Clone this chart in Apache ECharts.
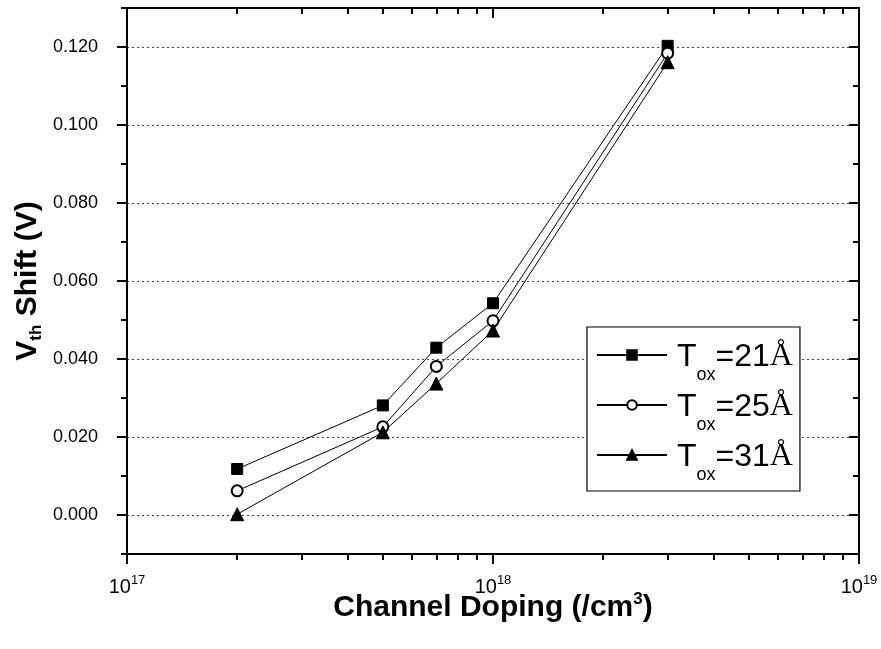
<!DOCTYPE html>
<html><head><meta charset="utf-8">
<script src="https://cdn.jsdelivr.net/npm/echarts@6/dist/echarts.min.js"></script>
<style>html,body{margin:0;padding:0;background:#fff}#c{width:881px;height:649px}</style>
</head><body><div id="c"></div>
<script>
// ---- data ----
const doping = [2e17, 5e17, 7e17, 1e18, 3e18];
const tox21 = [0.0118, 0.0281, 0.0429, 0.0543, 0.1203];
const tox25 = [0.0062, 0.0226, 0.0381, 0.0498, 0.1184];
const tox31 = [0.0002, 0.0212, 0.0337, 0.0473, 0.1161];
const seriesNames = ['Tox=21Å', 'Tox=25Å', 'Tox=31Å'];
const seriesThk = ['21', '25', '31'];
// ---- ticks ----
const xMajor = [1e17, 1e18, 1e19];
const xMinor = [2e17, 3e17, 4e17, 5e17, 6e17, 7e17, 8e17, 9e17, 2e18, 3e18, 4e18, 5e18, 6e18, 7e18, 8e18, 9e18];
const yMajor = [0, 0.02, 0.04, 0.06, 0.08, 0.10, 0.12];
const yMinor = [-0.01, 0.01, 0.03, 0.05, 0.07, 0.09, 0.11, 0.13];
const yMin = -0.01, yMax = 0.13;
const xMin = 1e17, xMax = 1e19;

const FONT = 'Liberation Sans, Arial, sans-serif';
const BLACK = '#000';

function xAx(grid, pos, ticks, len, inside, labels) {
  return {
    type: 'log', logBase: 10, gridIndex: grid, position: pos, min: xMin, max: xMax,
    axisLine: { show: true, onZero: false, lineStyle: { color: BLACK, width: 2 } },
    axisTick: { show: true, customValues: ticks, length: len, inside: inside, lineStyle: { color: BLACK, width: 2 } },
    axisLabel: labels ? {
      show: true, customValues: ticks, margin: 20, color: BLACK, fontFamily: FONT, fontSize: 20,
      formatter: v => '{b|10}{sup|' + Math.round(Math.log10(v)) + '}',
      rich: { b: { fontSize: 20, fontFamily: FONT, color: BLACK }, sup: { fontSize: 13, fontFamily: FONT, color: BLACK, padding: [0, 0, 14, 0] } }
    } : { show: false },
    splitLine: { show: false }, minorTick: { show: false }
  };
}
function yAx(grid, pos, ticks, len, inside, labels, split) {
  return {
    type: 'value', gridIndex: grid, position: pos, min: yMin, max: yMax,
    axisLine: { show: true, onZero: false, lineStyle: { color: BLACK, width: 2 } },
    axisTick: { show: true, customValues: ticks, length: len, inside: inside, lineStyle: { color: BLACK, width: 2 } },
    axisLabel: labels ? {
      show: true, customValues: ticks, margin: 29, color: BLACK, fontFamily: FONT, fontSize: 18,
      formatter: v => v.toFixed(3)
    } : { show: false },
    splitLine: split ? { show: true, lineStyle: { color: '#444', width: 1, type: [2, 3] } } : { show: false }
  };
}

const xA0 = xAx(0, 'bottom', xMajor, 10, false, true);
xA0.name = 'Channel Doping (/cm{sup|3})';
xA0.nameLocation = 'middle';
xA0.nameGap = 37;
xA0.nameMoveOverlap = false;
xA0.nameTextStyle = { fontFamily: FONT, fontSize: 30, fontWeight: 'bold', color: BLACK,
  rich: { sup: { fontFamily: FONT, fontSize: 17, fontWeight: 'bold', color: BLACK, padding: [0, 0, 17, 0] } } };

const yA0 = yAx(0, 'left', yMajor, 10, false, true, true);
yA0.name = '{v|V}{sub|th}{v| Shift (V)}';
yA0.nameLocation = 'middle';
yA0.nameGap = 82;
yA0.nameRotate = 90;
yA0.nameMoveOverlap = false;
yA0.nameTextStyle = { fontFamily: FONT, fontSize: 30, fontWeight: 'bold', color: BLACK,
  rich: {
    v: { fontFamily: FONT, fontSize: 30, fontWeight: 'bold', color: BLACK },
    sub: { fontFamily: FONT, fontSize: 17, fontWeight: 'bold', color: BLACK, padding: [17, 0, 0, 0] }
  } };

function mk(name, vals, symbol, size) {
  return {
    type: 'line', name: name, xAxisIndex: 0, yAxisIndex: 0,
    data: doping.map((x, i) => [x, vals[i]]),
    symbol: symbol, symbolSize: size, showAllSymbol: true,
    lineStyle: { color: BLACK, width: 1 },
    itemStyle: { color: BLACK, borderColor: BLACK, borderWidth: 1 },
    emphasis: { disabled: true }, animation: false, z: 3
  };
}

const chart = echarts.init(document.getElementById('c'), null, { renderer: 'canvas' });
chart.setOption({
  animation: false,
  backgroundColor: '#fff',
  grid: [
    { left: 127, right: 22, top: 8, bottom: 95, outerBoundsMode: 'none' },
    { left: 127, right: 22, top: 8, bottom: 95, outerBoundsMode: 'none' }
  ],
  xAxis: [
    xA0,
    xAx(0, 'top', xMajor, 10, true, false),
    xAx(1, 'bottom', xMinor, 6, false, false),
    xAx(1, 'top', xMinor, 6, true, false)
  ],
  yAxis: [
    yA0,
    yAx(0, 'right', yMajor, 10, true, false, false),
    yAx(1, 'left', yMinor, 6, false, false, false),
    yAx(1, 'right', yMinor, 6, true, false, false)
  ],
  legend: {
    orient: 'vertical', left: 587, top: 327,
    padding: [12, 7, 7, 9], itemGap: 5, itemWidth: 70, itemHeight: 12,
    borderColor: BLACK, borderWidth: 1.2, backgroundColor: '#fff',
    selectedMode: false,
    data: seriesNames,
    formatter: name => {
      const i = seriesNames.indexOf(name);
      return '{t|T}{s|ox}{u|=' + seriesThk[i] + '}{a|Å}';
    },
    textStyle: {
      color: BLACK, fontFamily: FONT,
      rich: {
        t: { fontSize: 32, lineHeight: 32, fontFamily: FONT, color: BLACK, verticalAlign: 'top', padding: [2, 0, 0, 5] },
        s: { fontSize: 18, lineHeight: 18, fontFamily: FONT, color: BLACK, verticalAlign: 'top', padding: [27, 0, 0, 0] },
        u: { fontSize: 32, lineHeight: 32, fontFamily: FONT, color: BLACK, verticalAlign: 'top', padding: [2, 0, 0, 0] },
        a: { fontSize: 32, lineHeight: 32, fontFamily: 'Liberation Serif, serif', color: BLACK, verticalAlign: 'top', padding: [2, 0, 0, 0] }
      }
    }
  },
  series: [
    mk(seriesNames[0], tox21, 'rect', 11),
    mk(seriesNames[1], tox25, 'emptyCircle', 11),
    mk(seriesNames[2], tox31, 'triangle', 13)
  ]
});
</script>
</body></html>
